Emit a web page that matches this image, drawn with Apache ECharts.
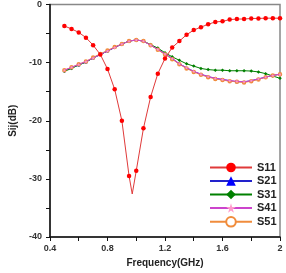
<!DOCTYPE html>
<html>
<head>
<meta charset="utf-8">
<script src="https://cdn.jsdelivr.net/npm/echarts@6/dist/echarts.min.js"></script>
<style>
  html, body { margin: 0; padding: 0; background: #fff; }
  #chart { width: 286px; height: 273px; }
</style>
</head>
<body>
<div id="chart"></div>
<script>
// 频率 (GHz)
const freq = [0.5, 0.55, 0.6, 0.65, 0.7, 0.75, 0.8, 0.85, 0.9, 0.95, 1.0, 1.05, 1.1, 1.15, 1.2,
  1.25, 1.3, 1.35, 1.4, 1.45, 1.5, 1.55, 1.6, 1.65, 1.7, 1.75, 1.8, 1.85, 1.9, 1.95, 2.0]
// S11 含谷底点 0.972
const s11Freq = [0.5, 0.55, 0.6, 0.65, 0.7, 0.75, 0.8, 0.85, 0.9, 0.95, 0.972, 1.0, 1.05, 1.1, 1.15, 1.2,
  1.25, 1.3, 1.35, 1.4, 1.45, 1.5, 1.55, 1.6, 1.65, 1.7, 1.75, 1.8, 1.85, 1.9, 1.95, 2.0]
const s11 = [-3.7, -4.2, -4.8, -5.7, -7.0, -8.6, -11.1, -14.6, -20.0, -29.5, -32.6, -28.6, -21.3, -15.9, -11.9, -9.3,
  -7.4, -6.3, -5.2, -4.4, -3.9, -3.4, -3.0, -2.9, -2.6, -2.5, -2.5, -2.4, -2.4, -2.35, -2.35, -2.35]
const s21 = [-11.4, -10.9, -10.4, -9.9, -9.2, -8.6, -8.0, -7.4, -6.8, -6.3, -6.1, -6.3, -7.0, -7.7, -8.5,
  -9.3, -10.2, -10.9, -11.5, -12.0, -12.4, -12.7, -12.9, -13.1, -13.3, -13.3, -13.1, -12.8, -12.5, -12.2, -12.0]
const s31 = [-11.5, -11.0, -10.4, -9.9, -9.2, -8.6, -8.0, -7.4, -6.8, -6.3, -6.1, -6.3, -6.9, -7.5, -8.3,
  -9.0, -9.6, -10.2, -10.6, -11.0, -11.2, -11.3, -11.3, -11.4, -11.4, -11.4, -11.45, -11.6, -11.9, -12.3, -12.7]
const s41 = [-11.3, -10.8, -10.3, -9.8, -9.2, -8.6, -8.0, -7.4, -6.8, -6.3, -6.1, -6.3, -7.0, -7.7, -8.5,
  -9.3, -10.2, -10.9, -11.5, -12.0, -12.4, -12.7, -12.9, -13.1, -13.2, -13.3, -13.1, -12.8, -12.5, -12.2, -12.0]
const s51 = [-11.3, -10.8, -10.3, -9.8, -9.1, -8.5, -7.9, -7.3, -6.8, -6.3, -6.1, -6.3, -7.0, -7.8, -8.6,
  -9.4, -10.3, -11.0, -11.6, -12.1, -12.5, -12.8, -13.0, -13.2, -13.3, -13.4, -13.2, -12.9, -12.5, -12.2, -12.0]

const starPath = 'path://M50,0 L61,35 L98,35 L68,57 L79,91 L50,70 L21,91 L32,57 L2,35 L39,35 Z'

const pairs = (xs, ys) => xs.map((x, i) => [x, ys[i]])

const s11Data = s11Freq.map((x, i) => {
  const onGrid = Math.abs(x * 20 - Math.round(x * 20)) < 1e-6
  return onGrid ? [x, s11[i]] : { value: [x, s11[i]], symbol: 'none' }
})

const makeSeries = (name, data, lineColor, symbolColor, symbol, size, z) => ({
  name: name,
  type: 'line',
  data: data,
  symbol: symbol,
  symbolSize: size,
  z: z,
  lineStyle: { color: lineColor, width: 1 },
  itemStyle: { color: symbolColor, borderColor: symbolColor, borderWidth: symbol === 'emptyCircle' ? 0.8 : 0 },
  emphasis: { disabled: true },
  animation: false
})

const fontStyle = {
  color: '#222222',
  fontWeight: 'bold',
  fontFamily: 'Liberation Sans, Arial'
}

const chart = echarts.init(document.getElementById('chart'))
chart.setOption({
  backgroundColor: '#ffffff',
  grid: {
    left: 44,
    right: 6,
    top: 2,
    bottom: 34,
    show: true,
    borderColor: '#888888',
    borderWidth: 1.5
  },
  legend: {
    orient: 'vertical',
    left: 209,
    top: 162,
    itemWidth: 42,
    itemHeight: 12,
    itemGap: 2.5,
    padding: 0,
    textStyle: Object.assign({ fontSize: 11 }, fontStyle),
    data: ['S11', 'S21', 'S31', 'S41', 'S51']
  },
  xAxis: {
    type: 'value',
    min: 0.4,
    max: 2,
    interval: 0.4,
    name: 'Frequency(GHz)',
    nameLocation: 'middle',
    nameGap: 21,
    nameTextStyle: Object.assign({ fontSize: 10 }, fontStyle),
    axisLine: { show: true, onZero: false, lineStyle: { color: '#111111', width: 1.5 } },
    axisTick: { show: true, inside: false, length: 4, lineStyle: { color: '#111111', width: 1 } },
    minorTick: { show: true, splitNumber: 2, length: 4, lineStyle: { color: '#111111', width: 1 } },
    splitLine: { show: false },
    axisLabel: Object.assign({
      margin: 7,
      fontSize: 9,
      formatter: v => String(+v.toFixed(1))
    }, fontStyle, { color: '#333333' })
  },
  yAxis: {
    type: 'value',
    min: -40,
    max: 0,
    interval: 10,
    name: 'Sij(dB)',
    nameLocation: 'middle',
    nameGap: 32,
    nameTextStyle: Object.assign({ fontSize: 10 }, fontStyle),
    axisLine: { show: true, onZero: false, lineStyle: { color: '#111111', width: 1.5 } },
    axisTick: { show: true, inside: false, length: 4, lineStyle: { color: '#111111', width: 1 } },
    minorTick: { show: true, splitNumber: 2, length: 4, lineStyle: { color: '#111111', width: 1 } },
    splitLine: { show: false },
    axisLabel: Object.assign({ margin: 8, fontSize: 9 }, fontStyle, { color: '#333333' })
  },
  series: [
    makeSeries('S11', s11Data, '#e03a3a', '#ff0000', 'circle', 4.5, 10),
    makeSeries('S21', pairs(freq, s21), '#2222cc', '#0000ff', 'triangle', 3, 3),
    makeSeries('S31', pairs(freq, s31), '#008000', '#008000', 'diamond', 3.5, 4),
    makeSeries('S41', pairs(freq, s41), '#cc44cc', '#ff99cc', starPath, 3.5, 6),
    makeSeries('S51', pairs(freq, s51), '#f08c3c', '#f08c3c', 'emptyCircle', 2.5, 5)
  ]
})
</script>
</body>
</html>
